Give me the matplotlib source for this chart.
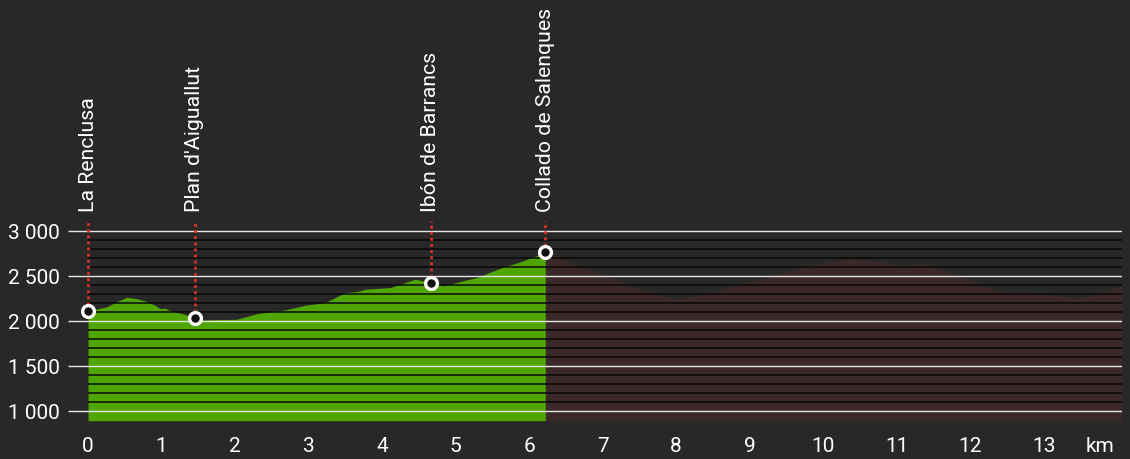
import numpy as np
import matplotlib.pyplot as plt

plt.rcParams['font.family'] = ['Roboto', 'DejaVu Sans']

# elevation profile (km, m)
dist = [0.00, 0.10, 0.25, 0.41, 0.53, 0.66, 0.78, 0.91, 0.98, 1.05, 1.12, 1.27,
        1.45, 1.52, 1.77, 2.02, 2.32, 2.68, 2.95, 3.16, 3.25, 3.50, 3.66, 3.77,
        4.11, 4.45, 4.56, 4.66, 4.83, 5.15, 5.29, 5.63, 5.88, 6.15, 6.22,
        6.42, 6.69, 7.06, 7.33, 7.65, 8.01, 8.37, 8.78, 9.32, 9.78, 10.10, 10.37,
        10.78, 11.05, 11.34, 11.59, 12.05, 12.36, 12.59, 13.04, 13.50, 13.81, 14.06]
elev = [2107, 2126, 2151, 2218, 2259, 2244, 2218, 2170, 2133, 2137, 2107, 2081,
        2029, 2007, 2011, 2015, 2081, 2118, 2170, 2192, 2211, 2311, 2322, 2348,
        2367, 2459, 2440, 2422, 2385, 2452, 2478, 2589, 2652, 2737, 2762,
        2700, 2589, 2496, 2404, 2311, 2237, 2292, 2385, 2496, 2607, 2652, 2689,
        2652, 2615, 2637, 2563, 2441, 2330, 2311, 2292, 2244, 2318, 2385]

# waypoints
wp_names = ['La Renclusa', "Plan d'Aiguallut", 'Ibón de Barrancs', 'Collado de Salenques']
wp_dist = [0.00, 1.45, 4.66, 6.22]
wp_elev = [2107, 2029, 2422, 2762]

done_km = 6.22
x_ticks = list(range(0, 14))
y_ticks = [1000, 1500, 2000, 2500, 3000]
y_labels = ['1 000', '1 500', '2 000', '2 500', '3 000']

bg = '#282828'
green = '#4fa600'
brown = '#3b2929'
y_bottom = 889

dist = np.array(dist)
elev = np.array(elev)

fig = plt.figure(figsize=(11.3, 4.6), dpi=100, facecolor=bg)
ax = fig.add_axes([0.0602, 0.0833, 0.9324, 0.9167])
ax.set_facecolor(bg)

x_end = dist[-1]
ax.fill_between(dist, y_bottom, elev, where=dist >= done_km, color=brown, lw=0, zorder=1)
ax.fill_between(dist, y_bottom, elev, where=dist <= done_km, color=green, lw=0, zorder=2)

# thin black bands every 100 m, white lines every 500 m
minor = [h for h in range(1100, 3000, 100) if h % 500 != 0]
ax.hlines(minor, 0, x_end, color='#080808', lw=1.1, zorder=3)
ax.hlines(y_ticks, -0.272, x_end, color='#e6e6e6', lw=1.0, zorder=4)

# waypoints: red dotted drops, white rings, vertical names
for name, d, e in zip(wp_names, wp_dist, wp_elev):
    ax.vlines(d, e, 3105, color='#e0302a', lw=2.0, linestyles=(0, (1.0, 1.2)), zorder=5)
    ax.text(d, 3215, name, rotation=90, ha='center', va='bottom',
            color='white', fontsize=15.3, zorder=6)
ax.plot(wp_dist, wp_elev, 'o', ms=8.5, mfc='#111111', mec='white', mew=2.4, zorder=7)

ax.set_xlim(-0.272, 14.06)
ax.set_ylim(y_bottom, 2000 + 321.3 / 0.09)

ax.set_xticks(x_ticks + [13.77])
ax.set_xticklabels([str(t) for t in x_ticks] + ['km'])
ax.set_yticks(y_ticks)
ax.set_yticklabels(y_labels)
ax.tick_params(length=0, colors='white', labelsize=15)
ax.tick_params(axis='x', pad=11)
ax.tick_params(axis='y', pad=6)
for s in ax.spines.values():
    s.set_visible(False)

fig.savefig('out.png', dpi=100, facecolor=bg)
